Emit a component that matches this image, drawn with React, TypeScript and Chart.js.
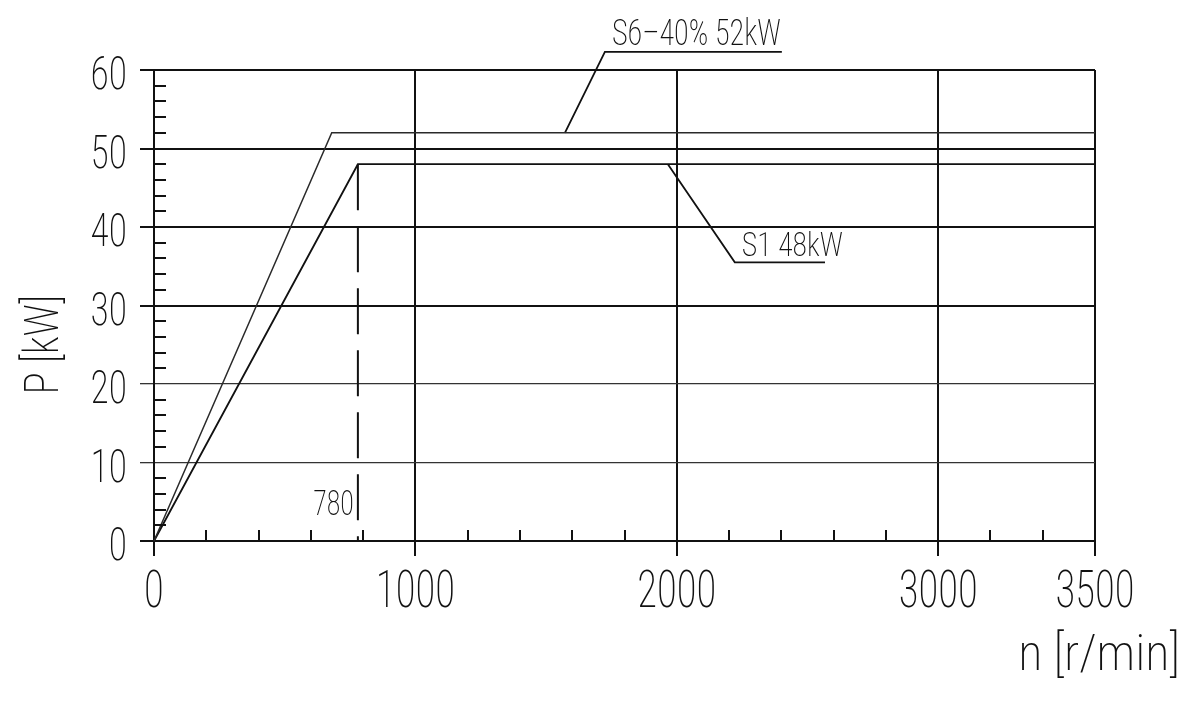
import React, { useEffect, useRef } from "react";
import { Chart, registerables } from "chart.js";

Chart.register(...registerables);

// ---- data ----
const xTickValues = [0, 1000, 2000, 3000, 3600];
const xTickLabels = ["0", "1000", "2000", "3000", "3500"];
const yTickValues = [0, 10, 20, 30, 40, 50, 60];
const yThinGrid = [10, 20];
const xMinorTicks = [200, 400, 600, 800, 1200, 1400, 1600, 1800, 2200, 2400, 2600, 2800, 3200, 3400];
const yMinorTicks = [2, 4, 6, 8, 12, 14, 16, 18, 22, 24, 26, 28, 32, 34, 36, 38, 42, 44, 46, 48, 52, 54, 56, 58];

const s6X = [0, 680, 3600];
const s6Y = [0, 52, 52];
const s1X = [0, 780, 3600];
const s1Y = [0, 48, 48];
const markX = [780, 780];
const markY = [48, 0];
const s6LeaderX = [1572, 1725, 2402];
const s6LeaderY = [52, 62.3, 62.3];
const s1LeaderX = [1966, 2222, 2567];
const s1LeaderY = [48, 35.5, 35.5];

const s6Label = "S6–40% 52kW";
const s1Label = "S1 48kW";
const markLabel = "780";
const markLabelY = 3.3;
const yTitle = "P [kW]";
const yTitleCenter = 25;
const xTitle = "n [r/min]";

const INK = "#111111";
const FONT = "Roboto, 'Roboto Condensed', sans-serif";

const pts = (xs: number[], ys: number[]) => xs.map((v, i) => ({ x: v, y: ys[i] }));

function squeezedText(
  ctx: CanvasRenderingContext2D,
  text: string,
  x: number,
  y: number,
  size: number,
  squeeze = 0.8
) {
  ctx.font = `200 ${size}px ${FONT}`;
  (ctx as any).fontStretch = "condensed";
  const w = ctx.measureText(text).width;
  ctx.fillText(text, x, y, w * squeeze);
}

const overlayPlugin = {
  id: "overlay",
  afterDraw(chart: any) {
    const { ctx, scales } = chart;
    const x = scales.x;
    const y = scales.y;
    ctx.save();
    ctx.strokeStyle = INK;
    ctx.lineWidth = 2;
    for (const v of yMinorTicks) {
      const py = Math.round(y.getPixelForValue(v));
      ctx.beginPath();
      ctx.moveTo(x.left, py);
      ctx.lineTo(x.left + 12, py);
      ctx.stroke();
    }
    for (const v of xMinorTicks) {
      const px = Math.round(x.getPixelForValue(v));
      ctx.beginPath();
      ctx.moveTo(px, y.bottom);
      ctx.lineTo(px, y.bottom - 11);
      ctx.stroke();
    }

    ctx.fillStyle = INK;
    ctx.textBaseline = "alphabetic";

    // tick labels from the library's scales
    ctx.textAlign = "center";
    x.ticks.forEach((t: any, i: number) => {
      squeezedText(ctx, String(t.label), x.getPixelForTick(i), y.bottom + 66, 51);
    });
    ctx.textAlign = "right";
    y.ticks.forEach((t: any, i: number) => {
      squeezedText(ctx, String(t.label), x.left - 27, y.getPixelForTick(i) + 19, 47);
    });

    // annotations
    ctx.textAlign = "left";
    squeezedText(ctx, s6Label, x.getPixelForValue(s6LeaderX[1]) + 7, y.getPixelForValue(s6LeaderY[1]) - 7, 36, 0.84);
    squeezedText(ctx, s1Label, x.getPixelForValue(s1LeaderX[1]) + 7, y.getPixelForValue(s1LeaderY[1]) - 6, 33, 0.9);
    ctx.textAlign = "right";
    squeezedText(ctx, markLabel, x.getPixelForValue(markX[0]) - 4, y.getPixelForValue(markLabelY), 35);

    // axis titles
    ctx.textAlign = "right";
    squeezedText(ctx, xTitle, chart.width - 12, y.bottom + 129, 50, 1);
    ctx.translate(38, y.getPixelForValue(yTitleCenter));
    ctx.rotate(-Math.PI / 2);
    ctx.textAlign = "center";
    ctx.textBaseline = "middle";
    squeezedText(ctx, yTitle, 0, 0, 49, 0.85);
    ctx.restore();
  },
};

export default function App() {
  const ref = useRef<HTMLCanvasElement | null>(null);

  useEffect(() => {
    if (!ref.current) return;
    const lineBase = {
      type: "line" as const,
      borderColor: INK,
      pointRadius: 0,
      tension: 0,
      fill: false,
      clip: false as any,
    };
    const chart = new Chart(ref.current, {
      type: "line",
      data: {
        datasets: [
          { ...lineBase, label: "S6-40%", data: pts(s6X, s6Y), borderWidth: 1.5, borderColor: "#2a2a2a" },
          { ...lineBase, label: "S1", data: pts(s1X, s1Y), borderWidth: 1.8 },
          { ...lineBase, label: "780", data: pts(markX, markY), borderWidth: 2, borderDash: [46, 16] },
          { ...lineBase, label: "S6 leader", data: pts(s6LeaderX, s6LeaderY), borderWidth: 1.8 },
          { ...lineBase, label: "S1 leader", data: pts(s1LeaderX, s1LeaderY), borderWidth: 1.8 },
        ],
      },
      options: {
        animation: false,
        responsive: true,
        maintainAspectRatio: false,
        layout: { padding: { left: 0, top: 62, right: 97, bottom: 53 } },
        plugins: { legend: { display: false }, tooltip: { enabled: false } },
        scales: {
          x: {
            type: "linear",
            min: 0,
            max: 3600,
            afterBuildTicks: (scale: any) => {
              scale.ticks = xTickValues.map((v) => ({ value: v }));
            },
            afterFit: (scale: any) => {
              scale.height = 100;
            },
            grid: { color: INK, lineWidth: 2, tickLength: 15, drawTicks: true },
            border: { display: true, color: INK, width: 2 },
            ticks: {
              display: false,
              autoSkip: false,
              maxRotation: 0,
              callback: (v: any) => {
                const i = xTickValues.indexOf(Number(v));
                return i >= 0 ? xTickLabels[i] : "";
              },
            },
          },
          y: {
            type: "linear",
            min: 0,
            max: 60,
            afterBuildTicks: (scale: any) => {
              scale.ticks = yTickValues.map((v) => ({ value: v }));
            },
            afterFit: (scale: any) => {
              scale.width = 146;
            },
            grid: {
              color: (c: any) => (yThinGrid.includes(c.tick?.value) ? "#333" : INK),
              lineWidth: (c: any) => (yThinGrid.includes(c.tick?.value) ? 1.3 : 2),
              tickLength: 14,
              drawTicks: true,
            },
            border: { display: true, color: INK, width: 2 },
            ticks: {
              display: false,
              callback: (v: any) => String(v),
            },
          },
        },
      },
      plugins: [overlayPlugin],
    });
    return () => chart.destroy();
  }, []);

  return (
    <div style={{ position: "relative", width: 1184, height: 686, background: "#fff" }}>
      <canvas ref={ref} />
    </div>
  );
}
